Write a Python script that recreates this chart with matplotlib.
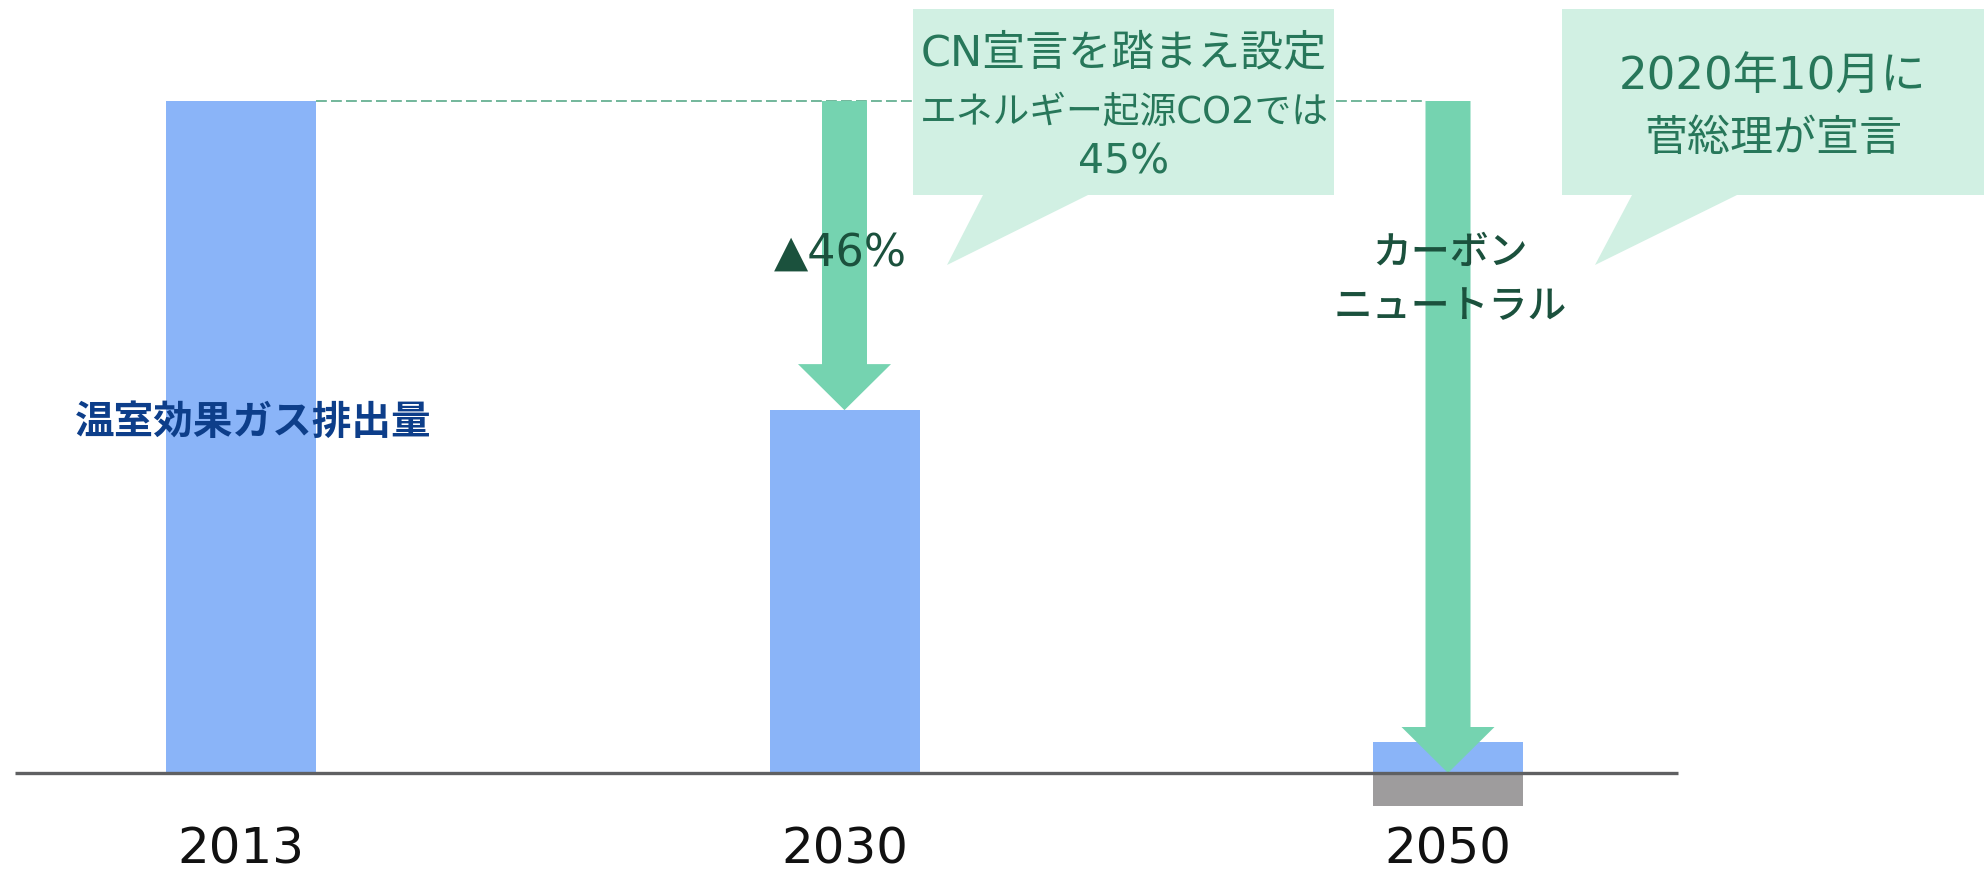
import matplotlib
matplotlib.use("Agg")
import matplotlib.pyplot as plt
from matplotlib.patches import Polygon

plt.rcParams["font.family"] = ["Noto Sans CJK JP", "DejaVu Sans"]
LATIN_FIRST = ["DejaVu Sans", "Noto Sans CJK JP"]

# データ (2013年度比の温室効果ガス排出量, 2013 = 100)
years = ["2013", "2030", "2050"]
emissions = [100, 54, 4.6]
absorption = [0, 0, -4.9]
targets = [None, 54, 0]
reduction_label = "▲46%"
cn_label = "カーボン\nニュートラル"
series_label = "温室効果ガス排出量"
callout_2030 = ["CN宣言を踏まえ設定", "エネルギー起源CO2では", "45%"]
callout_2050 = ["2020年10月に", "菅総理が宣言"]

BLUE = "#8ab4f8"
GRAY = "#9e9c9d"
GREEN = "#75d3b0"
BUBBLE = "#d1f0e3"
BUBBLE_TEXT = "#27775a"
DARK_GREEN = "#1b513d"
NAVY = "#0d3e8a"
AXIS = "#5f6062"

W, H = 1988, 874
fig = plt.figure(figsize=(W / 100, H / 100), dpi=100)
ax = fig.add_axes([0, 0, 1, 1])

# 画素 -> 座標
X0, XS = 241, 603.5      # カテゴリ0の中心, 1カテゴリあたりの画素
Y0, YS = 773, 6.72       # 0のy画素, 1単位あたりの画素
ax.set_xlim(-X0 / XS, (W - X0) / XS)
ax.set_ylim(-(H - Y0) / YS, Y0 / YS)
ax.axis("off")


def fx(px):
    return px / W


def fy(py):
    return 1 - py / H


x = list(range(len(years)))
bar_w = 150 / XS
ax.bar(x, emissions, width=bar_w, color=BLUE, zorder=2)
ax.bar(x, absorption, width=bar_w, color=GRAY, zorder=2)

# 基準線
ax.plot([-226 / XS, 1437 / XS], [0, 0], color=AXIS, lw=2.4, zorder=4,
        solid_capstyle="butt")

# 2013年水準の破線
shaft = 45 / XS
ax.plot([x[0] + bar_w / 2, x[2] - shaft / 2], [emissions[0], emissions[0]],
        color="#5aaa8a", lw=1.2, ls=(0, (6.5, 2.5)), zorder=1)

# 削減矢印
for i, t in enumerate(targets):
    if t is None:
        continue
    ax.arrow(x[i], emissions[0], 0, t - emissions[0], width=shaft,
             head_width=93 / XS, head_length=46 / YS,
             length_includes_head=True, color=GREEN, lw=0, zorder=3)

for i, y in enumerate(years):
    ax.text(x[i], -(864 - Y0) / YS, y, ha="center", va="baseline",
            fontsize=36, family=LATIN_FIRST, color="#111111")

fig.text(fx(253), fy(422), series_label, ha="center", va="center",
         fontsize=28.5, fontweight="bold", color=NAVY)
fig.text(fx(840), fy(253), reduction_label, ha="center", va="center",
         fontsize=32, family=LATIN_FIRST, color=DARK_GREEN)
fig.text(fx(1450), fy(280), cn_label, ha="center", va="center",
         fontsize=28, fontweight="medium", color=DARK_GREEN, linespacing=1.45)


def bubble(x1, x2, y1, y2, b1, b2, tip):
    pts = [(x1, y1), (x2, y1), (x2, y2), (b2, y2), tip, (b1, y2), (x1, y2)]
    fig.patches.append(Polygon([(fx(a), fy(b)) for a, b in pts], closed=True,
                               transform=fig.transFigure, facecolor=BUBBLE,
                               edgecolor="none", zorder=5))


bubble(913, 1334, 9, 195, 983, 1088, (947, 265))
bubble(1562, 1984, 9, 195, 1632, 1737, (1595, 265))

for (txt, py, fs) in zip(callout_2030, [53, 112, 163], [31, 26.5, 29.5]):
    fig.text(fx(1124), fy(py), txt, ha="center", va="center", fontsize=fs,
             family=LATIN_FIRST, color=BUBBLE_TEXT, zorder=6)
for (txt, py, fs) in zip(callout_2050, [77, 139], [32.5, 31]):
    fig.text(fx(1773), fy(py), txt, ha="center", va="center", fontsize=fs,
             family=LATIN_FIRST, color=BUBBLE_TEXT, zorder=6)

fig.savefig("out.png", dpi=100)
